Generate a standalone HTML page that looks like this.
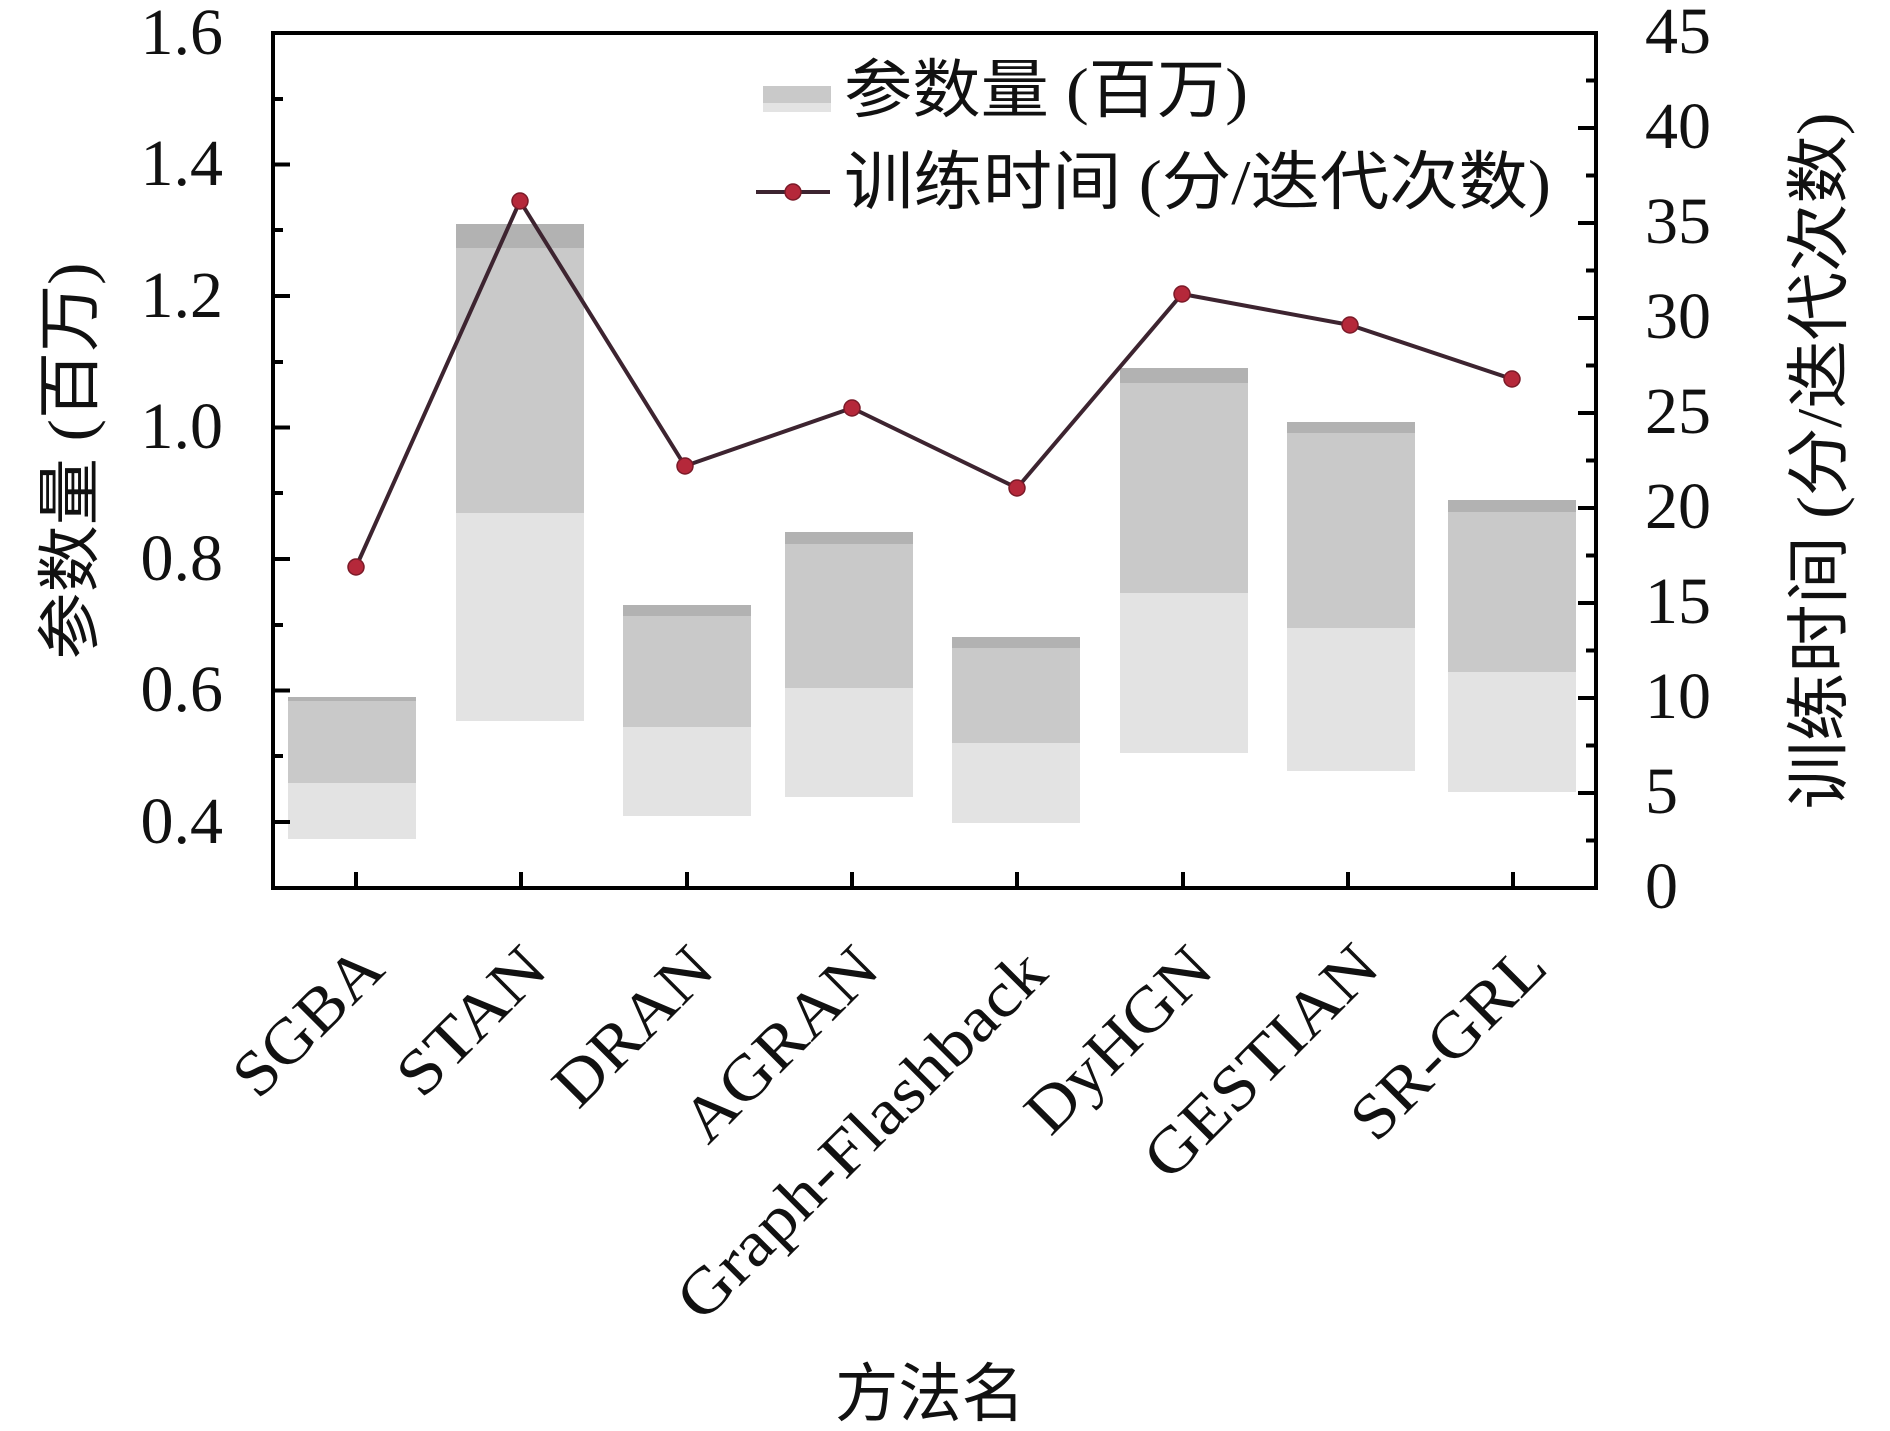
<!DOCTYPE html>
<html><head><meta charset="utf-8"><style>
html,body{margin:0;padding:0;background:#fff;}
svg{display:block;}
text{font-family:"Liberation Serif","Noto Sans CJK SC",serif;fill:#111;}
</style></head><body>
<svg width="1890" height="1431" viewBox="0 0 1890 1431" xmlns="http://www.w3.org/2000/svg">
<rect width="1890" height="1431" fill="#fff"/>
<!-- bars -->
<g>
 <!-- SGBA -->
 <rect x="288" y="697" width="128" height="86" fill="#c9c9c9"/>
 <rect x="288" y="697" width="128" height="4" fill="#b2b2b2"/>
 <rect x="288" y="783" width="128" height="56" fill="#e3e3e3"/>
 <!-- STAN -->
 <rect x="456" y="224" width="128" height="289" fill="#c9c9c9"/>
 <rect x="456" y="224" width="128" height="24" fill="#b2b2b2"/>
 <rect x="456" y="513" width="128" height="208" fill="#e3e3e3"/>
 <!-- DRAN -->
 <rect x="623" y="605" width="128" height="122" fill="#c9c9c9"/>
 <rect x="623" y="605" width="128" height="11" fill="#b2b2b2"/>
 <rect x="623" y="727" width="128" height="89" fill="#e3e3e3"/>
 <!-- AGRAN -->
 <rect x="785" y="532" width="128" height="156" fill="#c9c9c9"/>
 <rect x="785" y="532" width="128" height="12" fill="#b2b2b2"/>
 <rect x="785" y="688" width="128" height="109" fill="#e3e3e3"/>
 <!-- Graph-Flashback -->
 <rect x="952" y="637" width="128" height="106" fill="#c9c9c9"/>
 <rect x="952" y="637" width="128" height="11" fill="#b2b2b2"/>
 <rect x="952" y="743" width="128" height="80" fill="#e3e3e3"/>
 <!-- DyHGN -->
 <rect x="1120" y="368" width="128" height="225" fill="#c9c9c9"/>
 <rect x="1120" y="368" width="128" height="15" fill="#b2b2b2"/>
 <rect x="1120" y="593" width="128" height="160" fill="#e3e3e3"/>
 <!-- GESTIAN -->
 <rect x="1287" y="422" width="128" height="206" fill="#c9c9c9"/>
 <rect x="1287" y="422" width="128" height="11" fill="#b2b2b2"/>
 <rect x="1287" y="628" width="128" height="143" fill="#e3e3e3"/>
 <!-- SR-GRL -->
 <rect x="1448" y="500" width="128" height="172" fill="#c9c9c9"/>
 <rect x="1448" y="500" width="128" height="12" fill="#b2b2b2"/>
 <rect x="1448" y="672" width="128" height="120" fill="#e3e3e3"/>
</g>
<!-- line -->
<polyline points="356,567 520,201 685,466 852,408 1017,488 1182,294 1350,325 1512,379" fill="none" stroke="#3d2430" stroke-width="4" stroke-linejoin="round"/>
<g fill="#b5283a" stroke="#7a1a28" stroke-width="1.5">
 <circle cx="356" cy="567" r="8"/>
 <circle cx="520" cy="201" r="8"/>
 <circle cx="685" cy="466" r="8"/>
 <circle cx="852" cy="408" r="8"/>
 <circle cx="1017" cy="488" r="8"/>
 <circle cx="1182" cy="294" r="8"/>
 <circle cx="1350" cy="325" r="8"/>
 <circle cx="1512" cy="379" r="8"/>
</g>
<!-- frame -->
<rect x="273" y="33" width="1323" height="855" fill="none" stroke="#000" stroke-width="4"/>
<!-- left ticks -->
<g stroke="#000" stroke-width="4">
 <line x1="273" y1="822" x2="290" y2="822"/>
 <line x1="273" y1="690.5" x2="290" y2="690.5"/>
 <line x1="273" y1="559" x2="290" y2="559"/>
 <line x1="273" y1="427.5" x2="290" y2="427.5"/>
 <line x1="273" y1="296" x2="290" y2="296"/>
 <line x1="273" y1="164.5" x2="290" y2="164.5"/>
 <line x1="273" y1="756" x2="283" y2="756"/>
 <line x1="273" y1="625" x2="283" y2="625"/>
 <line x1="273" y1="493" x2="283" y2="493"/>
 <line x1="273" y1="362" x2="283" y2="362"/>
 <line x1="273" y1="230" x2="283" y2="230"/>
 <line x1="273" y1="99" x2="283" y2="99"/>
</g>
<!-- right ticks -->
<g stroke="#000" stroke-width="4">
 <line x1="1596" y1="793" x2="1578" y2="793"/>
 <line x1="1596" y1="698" x2="1578" y2="698"/>
 <line x1="1596" y1="603" x2="1578" y2="603"/>
 <line x1="1596" y1="508" x2="1578" y2="508"/>
 <line x1="1596" y1="413" x2="1578" y2="413"/>
 <line x1="1596" y1="318" x2="1578" y2="318"/>
 <line x1="1596" y1="223" x2="1578" y2="223"/>
 <line x1="1596" y1="128" x2="1578" y2="128"/>
 <line x1="1596" y1="840.5" x2="1586" y2="840.5"/>
 <line x1="1596" y1="745.5" x2="1586" y2="745.5"/>
 <line x1="1596" y1="650.5" x2="1586" y2="650.5"/>
 <line x1="1596" y1="555.5" x2="1586" y2="555.5"/>
 <line x1="1596" y1="460.5" x2="1586" y2="460.5"/>
 <line x1="1596" y1="365.5" x2="1586" y2="365.5"/>
 <line x1="1596" y1="270.5" x2="1586" y2="270.5"/>
 <line x1="1596" y1="175.5" x2="1586" y2="175.5"/>
 <line x1="1596" y1="80.5" x2="1586" y2="80.5"/>
</g>
<!-- bottom ticks -->
<g stroke="#000" stroke-width="4">
 <line x1="356" y1="888" x2="356" y2="872"/>
 <line x1="521" y1="888" x2="521" y2="872"/>
 <line x1="687" y1="888" x2="687" y2="872"/>
 <line x1="852" y1="888" x2="852" y2="872"/>
 <line x1="1017" y1="888" x2="1017" y2="872"/>
 <line x1="1183" y1="888" x2="1183" y2="872"/>
 <line x1="1348" y1="888" x2="1348" y2="872"/>
 <line x1="1513" y1="888" x2="1513" y2="872"/>
</g>
<!-- left tick labels -->
<g font-size="66" text-anchor="end">
 <text x="223" y="843">0.4</text>
 <text x="223" y="711">0.6</text>
 <text x="223" y="580">0.8</text>
 <text x="223" y="448">1.0</text>
 <text x="223" y="317">1.2</text>
 <text x="223" y="185">1.4</text>
 <text x="223" y="54">1.6</text>
</g>
<!-- right tick labels -->
<g font-size="66" text-anchor="start">
 <text x="1645" y="908">0</text>
 <text x="1645" y="813">5</text>
 <text x="1645" y="718">10</text>
 <text x="1645" y="623">15</text>
 <text x="1645" y="528">20</text>
 <text x="1645" y="433">25</text>
 <text x="1645" y="338">30</text>
 <text x="1645" y="243">35</text>
 <text x="1645" y="148">40</text>
 <text x="1645" y="53">45</text>
</g>
<!-- x category labels -->
<g font-size="64" text-anchor="end">
 <text transform="translate(387,972) rotate(-45)" textLength="182" lengthAdjust="spacingAndGlyphs">SGBA</text>
 <text transform="translate(550,972) rotate(-45)" textLength="181" lengthAdjust="spacingAndGlyphs">STAN</text>
 <text transform="translate(717,972) rotate(-45)" textLength="196" lengthAdjust="spacingAndGlyphs">DRAN</text>
 <text transform="translate(882,972) rotate(-45)" textLength="246" lengthAdjust="spacingAndGlyphs">AGRAN</text>
 <text transform="translate(1050,976) rotate(-45)" textLength="492" lengthAdjust="spacingAndGlyphs">Graph-Flashback</text>
 <text transform="translate(1216,972) rotate(-45)" textLength="234" lengthAdjust="spacingAndGlyphs">DyHGN</text>
 <text transform="translate(1382,970) rotate(-45)" textLength="301" lengthAdjust="spacingAndGlyphs">GESTIAN</text>
 <text transform="translate(1550,970) rotate(-45)" textLength="246" lengthAdjust="spacingAndGlyphs">SR-GRL</text>
</g>
<!-- axis titles -->
<text x="930" y="1416" font-size="64" text-anchor="middle" textLength="190" lengthAdjust="spacingAndGlyphs">方法名</text>
<text transform="translate(92,461) rotate(-90)" font-size="64" text-anchor="middle" textLength="397" lengthAdjust="spacingAndGlyphs">参数量 (百万)</text>
<text transform="translate(1841,461) rotate(-90)" font-size="64" text-anchor="middle" textLength="697" lengthAdjust="spacingAndGlyphs">训练时间 (分/迭代次数)</text>
<!-- legend -->
<rect x="763" y="86" width="68" height="17" fill="#c9c9c9"/>
<rect x="763" y="103" width="68" height="9" fill="#e3e3e3"/>
<text x="844" y="112" font-size="64" textLength="404" lengthAdjust="spacingAndGlyphs">参数量 (百万)</text>
<line x1="756" y1="192" x2="830" y2="192" stroke="#3d2430" stroke-width="4"/>
<circle cx="793" cy="192" r="8" fill="#b5283a" stroke="#7a1a28" stroke-width="1.5"/>
<text x="844" y="204" font-size="64" textLength="707" lengthAdjust="spacingAndGlyphs">训练时间 (分/迭代次数)</text>
</svg>
</body></html>
